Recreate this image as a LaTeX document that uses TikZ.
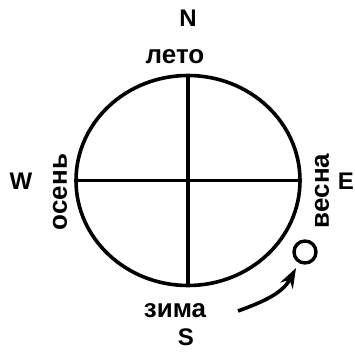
\documentclass[tikz,border=0pt]{standalone}
\usepackage{fontspec}
\setmainfont{Liberation Sans}
\usetikzlibrary{arrows.meta,positioning,shapes.geometric}

\begin{document}
\begin{tikzpicture}[
  x=1pt, y=1pt,
  font=\bfseries,
  >={Stealth[length=20pt,width=14pt]},
  compass/.style={
    font=\fontsize{24}{28}\selectfont\bfseries,
    inner sep=0pt,
    anchor=base
  },
  season/.style={
    font=\fontsize{26}{30}\selectfont\bfseries,
    inner sep=0pt
  }
]
  \useasboundingbox (0,0) rectangle (355,354);

  % Globe with its two axes
  \node[draw, ellipse, line width=3.6pt, minimum width=224pt, minimum height=210pt, inner sep=0pt] (globe) at (188,173.5) {};
  \draw[line width=3.6pt] (globe.north) -- (globe.south);
  \draw[line width=3.6pt] (globe.west) -- (globe.east);

  % Compass letters
  \node[compass] (north) at (188,327) {N};
  \node[compass] (south) at (186,9) {S};
  \node[compass] (west) at (21,165) {W};
  \node[compass, anchor=base east] (east) at (354,165) {E};

  % Seasons
  \node[season, anchor=base] (summer) at (175,290) {лето};
  \node[season, anchor=base] (winter) at (175,37) {зима};
  \node[season, rotate=90] (autumn) at (60,162) {осень};
  \node[season, rotate=90] (spring) at (322,163) {весна};

  % Sun and its path
  \node[draw, circle, line width=3.4pt, minimum size=22pt, inner sep=0pt] (sun) at (305,102) {};
  \coordinate (sunrise) at (238,43);
  \draw[->, line width=3.6pt] (sunrise) to[out=20, in=242] ([shift={(-9,-16)}]sun.center);

\end{tikzpicture}
\end{document}
